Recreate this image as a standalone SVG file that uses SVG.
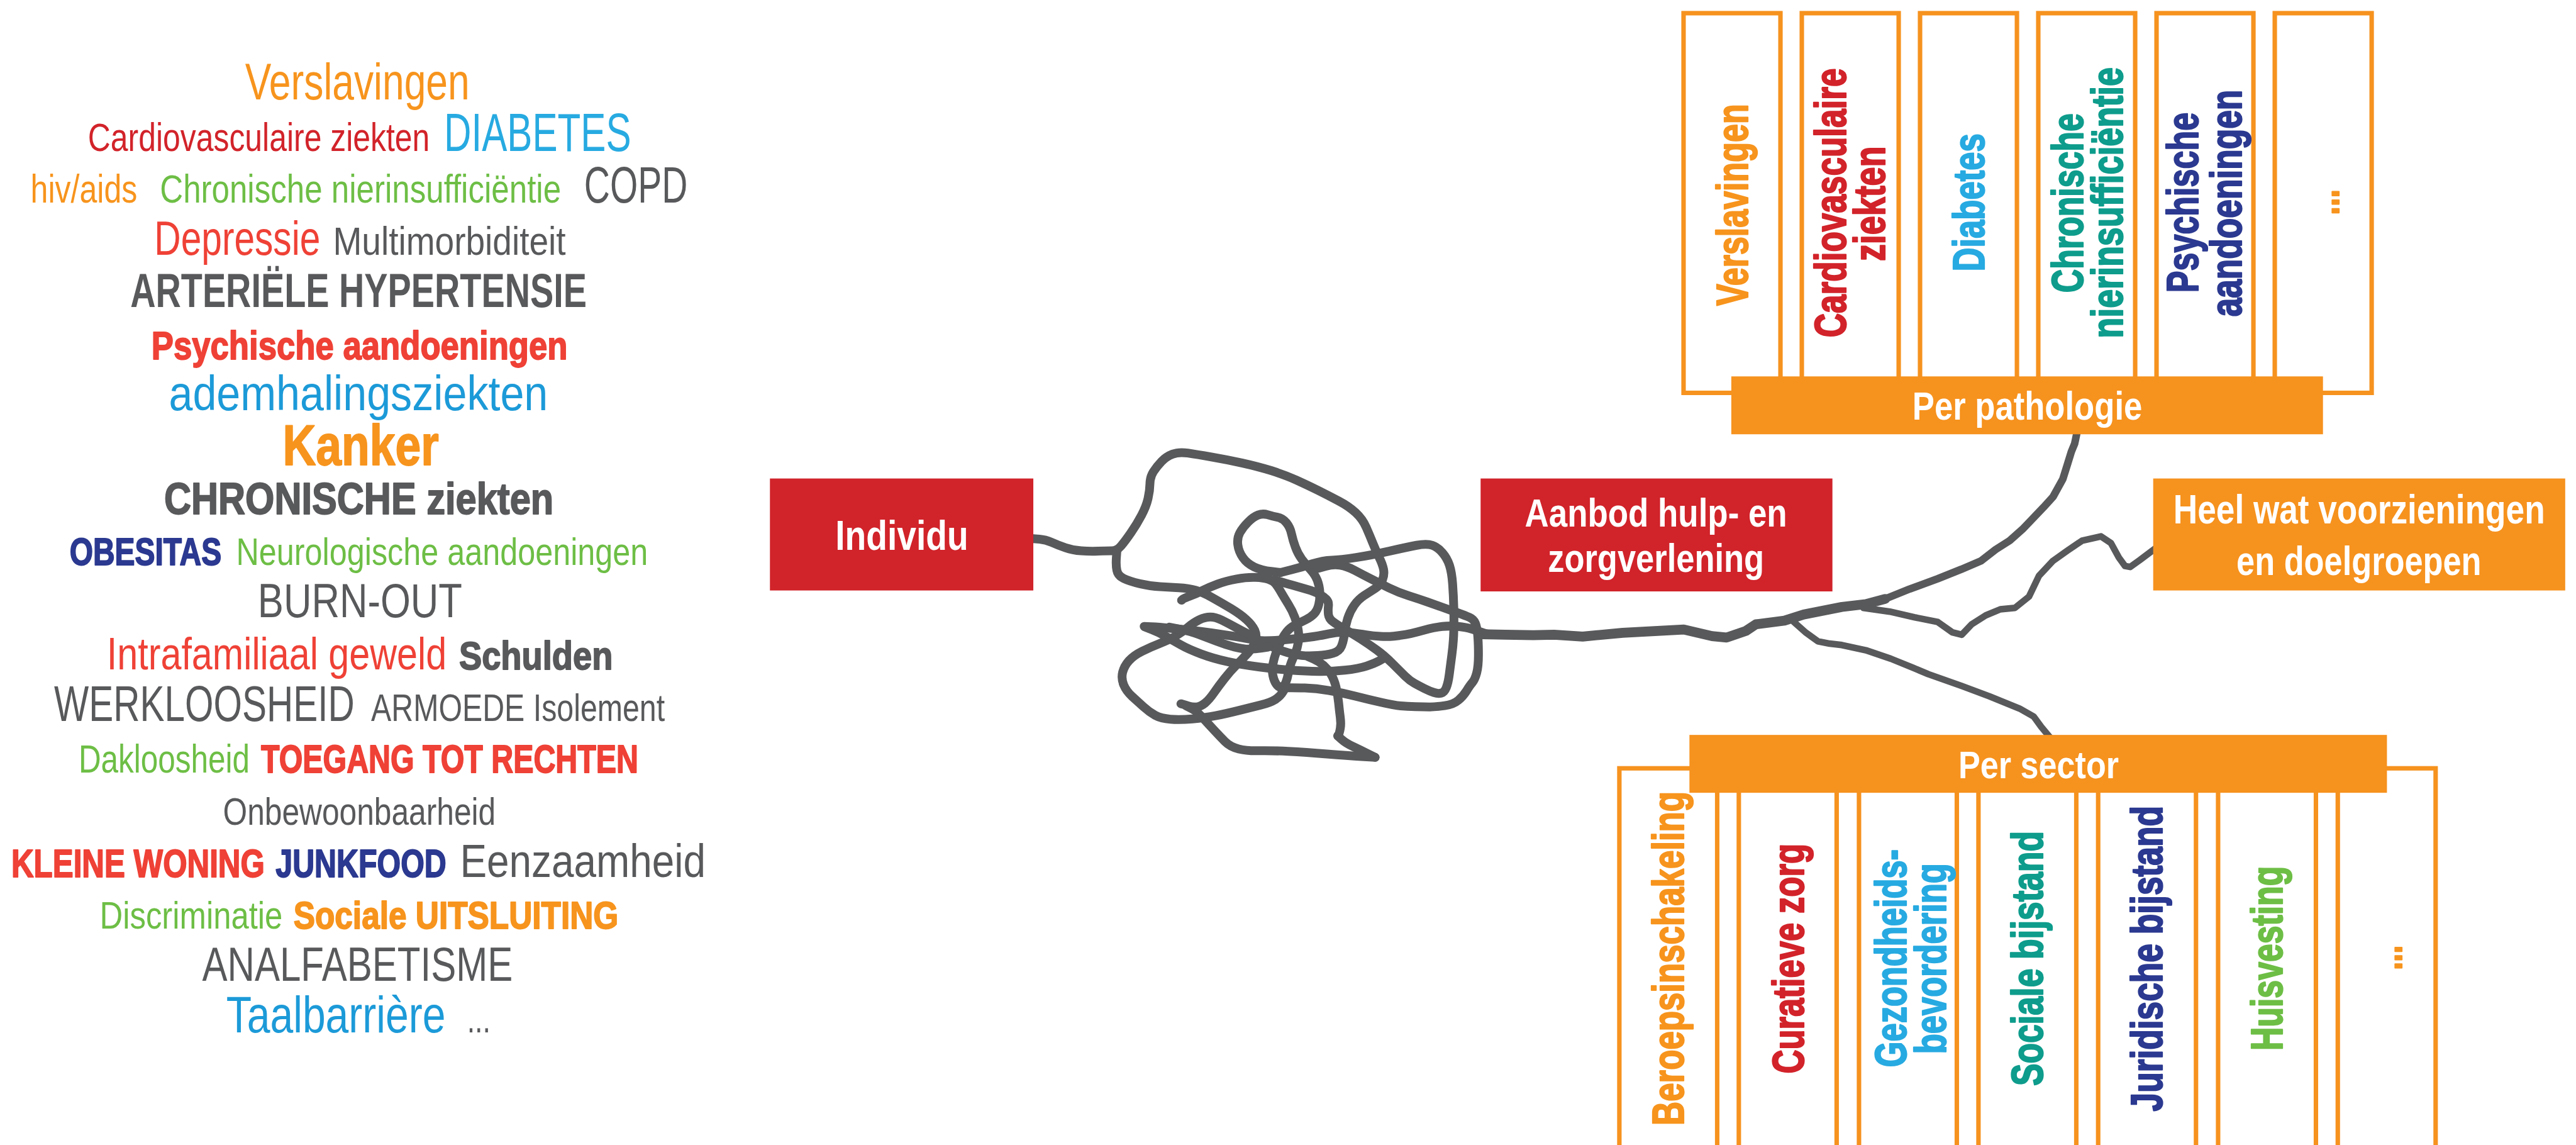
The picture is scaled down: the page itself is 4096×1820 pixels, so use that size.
<svg xmlns="http://www.w3.org/2000/svg" width="4096" height="1820" viewBox="0 0 4096 1820">
<style>
.wc text{font-family:"Liberation Sans",Arial,sans-serif}
.blk{font-weight:700;stroke-width:2.5;stroke-linejoin:round}
.lbl{font-family:"Liberation Sans",Arial,sans-serif;font-weight:700;fill:#fff}
.vt{font-family:"Liberation Sans",Arial,sans-serif;font-weight:700;font-size:93px;stroke-width:3;stroke-linejoin:round}
.box{fill:#fff;stroke:#F6921E;stroke-width:9.5}
.str{fill:none;stroke:#58595B;stroke-linecap:round;stroke-linejoin:round}
.red{fill:#D1232A}
.org{fill:#F6921E}
</style>
<rect width="4096" height="1820" fill="#fff"/>
<g transform="scale(0.74786)">

<g id="wordcloud" class="wc">
<text transform="translate(521,211) scale(0.765,1)" font-size="109" fill="#F7941D">Verslavingen</text>
<text transform="translate(187,321) scale(0.785,1)" font-size="85" fill="#D2232A">Cardiovasculaire ziekten</text>
<text transform="translate(944,321) scale(0.712,1)" font-size="113" fill="#27AAE1">DIABETES</text>
<text transform="translate(65,431) scale(0.797,1)" font-size="84" fill="#F7941D">hiv/aids</text>
<text transform="translate(340,431) scale(0.8035,1)" font-size="85" fill="#6DBE45">Chronische nierinsufficiëntie</text>
<text transform="translate(1242,431) scale(0.705,1)" font-size="108" fill="#58595B">COPD</text>
<text transform="translate(328,542) scale(0.769,1)" font-size="102" fill="#EF4136">Depressie</text>
<text transform="translate(708,542) scale(0.8765,1)" font-size="84" fill="#58595B">Multimorbiditeit</text>
<text transform="translate(277,652) scale(0.732,1)" font-size="102" fill="#58595B" font-weight="700">ARTERIËLE HYPERTENSIE</text>
<text transform="translate(322,763) scale(0.829,1)" font-size="85" fill="#EF4136" stroke="#EF4136" class="blk">Psychische aandoeningen</text>
<text transform="translate(359,872) scale(0.877,1)" font-size="104" fill="#1C9AD8">ademhalingsziekten</text>
<text transform="translate(601,988) scale(0.809,1)" font-size="121" fill="#F7941D" stroke="#F7941D" class="blk">Kanker</text>
<text transform="translate(349,1093) scale(0.839,1)" font-size="95" fill="#58595B" stroke="#58595B" class="blk">CHRONISCHE ziekten</text>
<text transform="translate(148,1201) scale(0.782,1)" font-size="82" fill="#2B3990" stroke="#2B3990" class="blk">OBESITAS</text>
<text transform="translate(502,1201) scale(0.821,1)" font-size="82" fill="#6DBE45">Neurologische aandoeningen</text>
<text transform="translate(548,1312) scale(0.808,1)" font-size="102" fill="#58595B">BURN-OUT</text>
<text transform="translate(227,1423) scale(0.826,1)" font-size="96" fill="#EF4136">Intrafamiliaal geweld</text>
<text transform="translate(976,1423) scale(0.855,1)" font-size="85" fill="#58595B" stroke="#58595B" class="blk">Schulden</text>
<text transform="translate(115,1533) scale(0.738,1)" font-size="106" fill="#58595B">WERKLOOSHEID</text>
<text transform="translate(789,1533) scale(0.788,1)" font-size="82" fill="#58595B">ARMOEDE Isolement</text>
<text transform="translate(167,1642) scale(0.797,1)" font-size="83" fill="#6DBE45">Dakloosheid</text>
<text transform="translate(555,1642) scale(0.779,1)" font-size="83" fill="#EF4136" stroke="#EF4136" class="blk">TOEGANG TOT RECHTEN</text>
<text transform="translate(474,1753) scale(0.8105,1)" font-size="82" fill="#58595B">Onbewoonbaarheid</text>
<text transform="translate(24,1864) scale(0.795,1)" font-size="83" fill="#EF4136" stroke="#EF4136" class="blk">KLEINE WONING</text>
<text transform="translate(586,1864) scale(0.7795,1)" font-size="83" fill="#2B3990" stroke="#2B3990" class="blk">JUNKFOOD</text>
<text transform="translate(978,1864) scale(0.854,1)" font-size="100" fill="#58595B">Eenzaamheid</text>
<text transform="translate(212,1974) scale(0.839,1)" font-size="81" fill="#6DBE45">Discriminatie</text>
<text transform="translate(624,1974) scale(0.848,1)" font-size="81" fill="#F7941D" stroke="#F7941D" class="blk">Sociale UITSLUITING</text>
<text transform="translate(430,2084) scale(0.787,1)" font-size="102" fill="#58595B">ANALFABETISME</text>
<text transform="translate(481,2194) scale(0.803,1)" font-size="110" fill="#1C9AD8">Taalbarrière</text>
<text transform="translate(993,2194) scale(0.731,1)" font-size="82" fill="#58595B">...</text>
</g>

<g id="connectors">
<g transform="translate(2330,940) scale(0.44643)" class="str" stroke-width="42">
<path d="M-298 459 L-269 461 Q-240 463 -210 476.5 Q-180 490 -145 502 Q-110 514 -70 517 Q-30 520 10 518.5 Q50 517 75 517 Q100 517 120 493.5 Q140 470 167.5 430 Q195 390 217.5 347.5 Q240 305 248.5 267.5 Q257 230 257.5 197.5 Q258 165 274 140 Q290 115 312.5 91.5 Q335 68 365 56.5 Q395 45 437.5 51.5 Q480 58 550 70 Q620 82 695 98.5 Q770 115 835 135 Q900 155 955 180 Q1010 205 1060 230 Q1110 255 1157.5 280 Q1205 305 1237.5 335 Q1270 365 1287.5 405 Q1305 445 1320 482.5 Q1335 520 1350 550 Q1365 580 1370 605 Q1375 630 1365 655 Q1355 680 1330 696 Q1305 712 1277.5 730 Q1250 748 1230 776.5 Q1210 805 1199 840 Q1188 875 1184 910 Q1180 945 1170 970 Q1160 995 1130 1004 Q1100 1013 1055 1015.5 Q1010 1018 980 1015 Q950 1012 915 1002 Q880 992 850 978.5 Q820 965 800 955 L780 945"/>
<path d="M100 517 L97.5 551 Q95 585 100 610 Q105 635 132.5 648.5 Q160 662 210 673.5 Q260 685 305 687.5 Q350 690 395 692.5 Q440 695 475 705 Q510 715 555 740 Q600 765 645 792.5 Q690 820 717.5 845 Q745 870 756.5 895 Q768 920 759 947.5 Q750 975 725 1002.5 Q700 1030 670 1060 Q640 1090 612.5 1125 Q585 1160 562.5 1192.5 Q540 1225 520 1241.5 Q500 1258 480 1260 Q460 1262 442.5 1256 Q425 1250 415 1247.5 L405 1245"/>
<path d="M880 620 L835 615 Q790 610 755 594 Q720 578 700 549 Q680 520 676 487.5 Q672 455 686 430 Q700 405 725 380 Q750 355 772.5 346.5 Q795 338 817.5 345 Q840 352 865 357 Q890 362 907.5 383.5 Q925 405 931.5 435 Q938 465 950 498.5 Q962 532 981 557 Q1000 582 1022.5 607 Q1045 632 1055 658.5 Q1065 685 1066.5 715 Q1068 745 1061.5 772.5 Q1055 800 1040 816 Q1025 832 1000 844.5 Q975 857 950 869.5 Q925 882 909 902 Q893 922 880.5 948.5 Q868 975 858 1002.5 Q848 1030 843 1057.5 Q838 1085 843 1110 Q848 1135 859 1151.5 Q870 1168 883.5 1165 Q897 1162 904.5 1143.5 Q912 1125 917 1097.5 Q922 1070 931 1047.5 Q940 1025 950 1002.5 Q960 980 964 952.5 Q968 925 964 896.5 Q960 868 947.5 834 Q935 800 916.5 771 Q898 742 883 716 Q868 690 856.5 675 Q845 660 822.5 652.5 Q800 645 760 643.5 Q720 642 670 651 Q620 660 580 675 Q540 690 510 705 Q480 720 450 731 Q420 742 414 747 L408 752"/>
<path d="M1060 600 L1095 590 Q1130 580 1162.5 585 Q1195 590 1232.5 610 Q1270 630 1311 651 Q1352 672 1396 693.5 Q1440 715 1489 730.5 Q1538 746 1579 760.5 Q1620 775 1654 787 Q1688 799 1724 812 Q1760 825 1780 834 Q1800 843 1807.5 862 Q1815 881 1818.5 918 Q1822 955 1822 1011 Q1822 1067 1813.5 1098.5 Q1805 1130 1793 1144 Q1781 1158 1765.5 1183 Q1750 1208 1726.5 1228 Q1703 1248 1661.5 1254 Q1620 1260 1590.5 1260 Q1561 1260 1522 1259 Q1483 1258 1451.5 1255 Q1420 1252 1360 1238.5 Q1300 1225 1235 1208.5 Q1170 1192 1110 1182 Q1050 1172 995 1170 Q940 1168 910 1169 L880 1170"/>
<path d="M880 620 L930 607.5 Q980 595 1030 579 Q1080 563 1122.5 561.5 Q1165 560 1239.5 548.5 Q1314 537 1396.5 518.5 Q1479 500 1527.5 490.5 Q1576 481 1602 490.5 Q1628 500 1650.5 526 Q1673 552 1684 585.5 Q1695 619 1699 675 Q1703 731 1704.5 787 Q1706 843 1704.5 899 Q1703 955 1695.5 1011 Q1688 1067 1683 1106 Q1678 1145 1669 1167.5 Q1660 1190 1645 1194 Q1630 1198 1610 1191.5 Q1590 1185 1565 1172.5 Q1540 1160 1517.5 1147.5 Q1495 1135 1472 1112.5 Q1449 1090 1411.5 1052.5 Q1374 1015 1337 988.5 Q1300 962 1260 936 Q1220 910 1185 890 Q1150 870 1130 855 Q1110 840 1107.5 820 Q1105 800 1107.5 780 Q1110 760 1097.5 747.5 Q1085 735 1062.5 722.5 Q1040 710 1005 700 Q970 690 935 680 Q900 670 875 662.5 L850 655"/>
<path d="M230 877 L265 878.5 Q300 880 350 885 Q400 890 450 895 Q500 900 550 907.5 Q600 915 650 922.5 Q700 930 735 937.5 Q770 945 805 945 Q840 945 890 941 Q940 937 995 931 Q1050 925 1107.5 912.5 Q1165 900 1210 906 Q1255 912 1287.5 917 Q1320 922 1354.5 924 Q1389 926 1419.5 923 Q1450 920 1475.5 915.5 Q1501 911 1530.5 903 Q1560 895 1586.5 888 Q1613 881 1650.5 877 Q1688 873 1725 877 Q1762 881 1788.5 888.5 Q1815 896 1844.5 907 Q1874 918 1911.5 916.5 L1949 915"/>
<path d="M760 930 L730 915 Q700 900 665 881 Q630 862 600 847 Q570 832 545 832 Q520 832 492.5 845 Q465 858 437.5 881.5 Q410 905 380 922.5 Q350 940 305 957.5 Q260 975 220 995 Q180 1015 157.5 1040 Q135 1065 127.5 1095 Q120 1125 132.5 1155 Q145 1185 172.5 1210 Q200 1235 227.5 1260 Q255 1285 282.5 1300 Q310 1315 355 1318.5 Q400 1322 460 1317 Q520 1312 570 1302 Q620 1292 680 1277 Q740 1262 785 1251 Q830 1240 854 1225 Q878 1210 891.5 1187.5 L905 1165"/>
<path d="M235 880 L267.5 892.5 Q300 905 335 925 Q370 945 405 965 Q440 985 500 1007.5 Q560 1030 630 1045 Q700 1060 780 1070 Q860 1080 930 1085 Q1000 1090 1060 1091 Q1120 1092 1185 1085 Q1250 1078 1290 1065 Q1330 1052 1351 1040 L1372 1028"/>
<path d="M1010 1020 L1037.5 1032.5 Q1065 1045 1085 1062.5 Q1105 1080 1120 1105 Q1135 1130 1143.5 1165 Q1152 1200 1156 1240 Q1160 1280 1164 1310 Q1168 1340 1164 1362.5 Q1160 1385 1156 1391.5 L1152 1398"/>
<path d="M1152 1398 L1171 1415 Q1190 1432 1225 1448.5 Q1260 1465 1295 1482.5 L1330 1500"/>
<path d="M1330 1500 L1265 1496 Q1200 1492 1100 1484 Q1000 1476 915 1471.5 Q830 1467 775 1468.5 Q720 1470 680 1460 Q640 1450 615 1425 Q590 1400 560 1367.5 Q530 1335 505 1307.5 Q480 1280 455 1267.5 L430 1255"/>
<path d="M350 880 L400 890 Q450 900 490 915 Q530 930 575 947.5 Q620 965 660 975 Q700 985 730 985 Q760 985 790 980 L820 975"/>
</g>
<path class="str" stroke-width="21" d="M3150 1348 L3200 1349 3260 1350 3304 1349 3365 1353 3450 1345 3580 1338 3640 1352 3671 1355 3712 1341 3733 1327 3794 1319 3835 1306 3916 1290 3967 1284 4008 1273"/>
<path class="str" stroke-width="16" d="M4008 1273 L4060 1252 4120 1230 4170 1210 4212 1192 4243 1168 4273 1149 4300 1125 4324 1100 4345 1078 4365 1056 4386 1018 4396 986 4404 960 4411 943 4418 910"/>
<path class="str" stroke-width="14" d="M3814 1322 L3840 1345 3865 1363 3890 1368 3916 1371 3967 1382 4020 1400 4069 1420 4100 1433 4171 1458 4230 1480 4294 1506 4324 1523 4340 1545 4365 1575"/>
<path class="str" stroke-width="14" d="M3962 1292 L4018 1300 4070 1312 4120 1322 4151 1344 4171 1349 4192 1327 4222 1308 4253 1295 4284 1292 4314 1268 4335 1224 4365 1192 4396 1170 4427 1149 4467 1140 4488 1154 4505 1185 4518 1203 4529 1205 4550 1190 4590 1160"/>
</g>

<g id="individu">
<rect class="red" x="1637" y="1017" width="560" height="238"/>
<text class="lbl" transform="translate(1776,1168) scale(0.82,1)" font-size="90">Individu</text>
</g>

<g id="aanbod">
<rect class="red" x="3148" y="1017" width="748" height="240"/>
<text class="lbl" transform="translate(3242,1119) scale(0.852,1)" font-size="83">Aanbod hulp- en</text>
<text class="lbl" transform="translate(3291,1215) scale(0.845,1)" font-size="83">zorgverlening</text>
</g>

<g id="voorzieningen">
<rect class="org" x="4578" y="1017" width="876" height="238"/>
<text class="lbl" transform="translate(4621,1112) scale(0.8265,1)" font-size="86">Heel wat voorzieningen</text>
<text class="lbl" transform="translate(4755,1222) scale(0.8136,1)" font-size="86">en doelgroepen</text>
</g>

<g id="per-pathologie">
<g id="p-verslavingen"><rect class="box" x="3579.5" y="28" width="206" height="807"/>
<text class="vt" fill="#F7941D" stroke="#F7941D" transform="translate(3716,650) rotate(-90) scale(0.748,1)">Verslavingen</text></g>
<g id="p-cardio"><rect class="box" x="3830.9" y="28" width="206" height="807"/>
<text class="vt" fill="#D2232A" stroke="#D2232A" transform="translate(3924,717) rotate(-90) scale(0.763,1)">Cardiovasculaire</text>
<text class="vt" fill="#D2232A" stroke="#D2232A" transform="translate(4007,555) rotate(-90) scale(0.774,1)">ziekten</text></g>
<g id="p-diabetes"><rect class="box" x="4082.3" y="28" width="206" height="807"/>
<text class="vt" fill="#27AAE1" stroke="#27AAE1" transform="translate(4219,577) rotate(-90) scale(0.756,1)">Diabetes</text></g>
<g id="p-nier"><rect class="box" x="4333.7" y="28" width="206" height="807"/>
<text class="vt" fill="#0E9C8C" stroke="#0E9C8C" transform="translate(4428,622) rotate(-90) scale(0.745,1)">Chronische</text>
<text class="vt" fill="#0E9C8C" stroke="#0E9C8C" transform="translate(4513,719) rotate(-90) scale(0.774,1)">nierinsufficiëntie</text></g>
<g id="p-psych"><rect class="box" x="4585.1" y="28" width="206" height="807"/>
<text class="vt" fill="#2B3990" stroke="#2B3990" transform="translate(4674,622) rotate(-90) scale(0.748,1)">Psychische</text>
<text class="vt" fill="#2B3990" stroke="#2B3990" transform="translate(4765,673) rotate(-90) scale(0.765,1)">aandoeningen</text></g>
<g id="p-more"><rect class="box" x="4836.5" y="28" width="206" height="807"/>
<text class="vt" fill="#F7941D" stroke="#F7941D" transform="translate(4973,457) rotate(-90) scale(0.709,1)">...</text></g>
<rect class="org" x="3681" y="800" width="1258" height="123"/>
<text class="lbl" transform="translate(4066,892) scale(0.828,1)" font-size="85">Per pathologie</text>
</g>

<g id="per-sector">
<g id="s-beroeps"><rect class="box" x="3443" y="1633" width="208" height="900"/>
<text class="vt" fill="#F7941D" stroke="#F7941D" transform="translate(3580,2392) rotate(-90) scale(0.759,1)">Beroepsinschakeling</text></g>
<g id="s-curatief"><rect class="box" x="3697" y="1633" width="208" height="900"/>
<text class="vt" fill="#D2232A" stroke="#D2232A" transform="translate(3835,2282) rotate(-90) scale(0.757,1)">Curatieve zorg</text></g>
<g id="s-gezond"><rect class="box" x="3952.5" y="1633" width="208" height="900"/>
<text class="vt" fill="#27AAE1" stroke="#27AAE1" transform="translate(4053,2268) rotate(-90) scale(0.753,1)">Gezondheids-</text>
<text class="vt" fill="#27AAE1" stroke="#27AAE1" transform="translate(4137,2240) rotate(-90) scale(0.754,1)">bevordering</text></g>
<g id="s-sociaal"><rect class="box" x="4206.5" y="1633" width="208" height="900"/>
<text class="vt" fill="#0E9C8C" stroke="#0E9C8C" transform="translate(4343,2308) rotate(-90) scale(0.765,1)">Sociale bijstand</text></g>
<g id="s-juridisch"><rect class="box" x="4461" y="1633" width="208" height="900"/>
<text class="vt" fill="#2B3990" stroke="#2B3990" transform="translate(4597,2362) rotate(-90) scale(0.766,1)">Juridische bijstand</text></g>
<g id="s-huis"><rect class="box" x="4716" y="1633" width="208" height="900"/>
<text class="vt" fill="#6DBE45" stroke="#6DBE45" transform="translate(4852,2233) rotate(-90) scale(0.744,1)">Huisvesting</text></g>
<g id="s-more"><rect class="box" x="4970.5" y="1633" width="208" height="900"/>
<text class="vt" fill="#F7941D" stroke="#F7941D" transform="translate(5107,2062) rotate(-90) scale(0.683,1)">...</text></g>
<rect class="org" x="3592" y="1562" width="1483" height="123"/>
<text class="lbl" transform="translate(4164,1654) scale(0.85,1)" font-size="82">Per sector</text>
</g>

</g>
</svg>
